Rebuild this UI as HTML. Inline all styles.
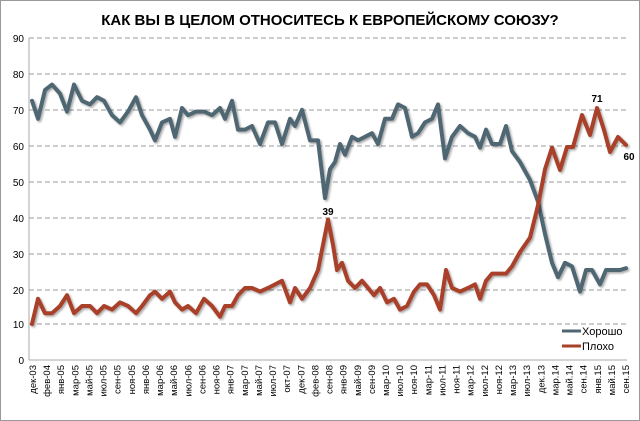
<!DOCTYPE html>
<html><head><meta charset="utf-8"><style>
body{margin:0;background:#fff}
svg{display:block}
text{font-family:"Liberation Sans",sans-serif}
</style></head><body>
<svg width="640" height="421" viewBox="0 0 640 421" xmlns="http://www.w3.org/2000/svg">
<defs><filter id="sh" x="-5%" y="-5%" width="110%" height="110%"><feDropShadow dx="1.5" dy="1.5" stdDeviation="1" flood-color="#000" flood-opacity="0.35"/></filter></defs>
<rect x="0.5" y="0.5" width="639" height="420" fill="#fff" stroke="#999"/>
<text x="330" y="25" text-anchor="middle" font-size="15" font-weight="bold" fill="#000">КАК ВЫ В ЦЕЛОМ ОТНОСИТЕСЬ К ЕВРОПЕЙСКОМУ СОЮЗУ?</text>
<g stroke="#999" stroke-dasharray="5,3" stroke-width="1">
<line x1="29" x2="627" y1="38" y2="38"/><line x1="29" x2="627" y1="74" y2="74"/><line x1="29" x2="627" y1="110" y2="110"/><line x1="29" x2="627" y1="146" y2="146"/><line x1="29" x2="627" y1="182" y2="182"/><line x1="29" x2="627" y1="218" y2="218"/><line x1="29" x2="627" y1="254" y2="254"/><line x1="29" x2="627" y1="290" y2="290"/><line x1="29" x2="627" y1="324" y2="324"/>
</g>
<line x1="29" x2="627" y1="360" y2="360" stroke="#aaa"/>
<line x1="29" x2="29" y1="38" y2="360" stroke="#aaa"/>
<g font-size="10" fill="#000" text-anchor="end">
<text x="24" y="42">90</text><text x="24" y="78">80</text><text x="24" y="114">70</text><text x="24" y="150">60</text><text x="24" y="186">50</text><text x="24" y="222">40</text><text x="24" y="258">30</text><text x="24" y="294">20</text><text x="24" y="328">10</text><text x="24" y="364">0</text>
</g>
<g font-size="9.5" fill="#000" text-anchor="end" id="xl"></g>
<polyline filter="url(#sh)" fill="none" stroke="#506673" stroke-width="4" stroke-linejoin="round" stroke-linecap="round" points="32,100.8 38,118.8 45,90 52,84.6 60,93.6 67,111.6 74,84.6 82,100.8 90,104.4 97,97.2 104,100.8 112,115.2 120,122.4 128,111.6 136,97.2 142,115.2 150,129.6 155,140.4 162,122.4 170,118.8 175,136.8 182,108 188,115.2 196,111.6 204,111.6 212,115.2 220,108 225,118.8 232,100.8 238,129.6 245,129.6 252,126 260,144 268,122.4 275,122.4 282,144 290,118.8 295,126 302,109.8 310,140.4 318,140.4 325,198 330,169.2 335,162 340,144 345,154.8 352,136.8 358,140.4 365,136.8 372,133.2 378,144 385,118.8 392,118.8 398,104.4 405,108 412,136.8 418,133.2 425,122.4 432,118.8 438,104.4 445,158.4 452,136.8 460,126 468,133.2 475,136.8 480,147.6 486,129.6 492,144 500,144 506,126 512,151.2 520,162 530,180 538,201.6 545,234 552,262.8 558,277.2 565,262.8 572,266.4 580,291.6 586,270 592,270 600,284.4 606,270 612,270 620,270 626,268.2"/>
<polyline filter="url(#sh)" fill="none" stroke="#a8412a" stroke-width="4" stroke-linejoin="round" stroke-linecap="round" points="32,324 38,298.8 45,313.2 52,313.2 60,306 67,295.2 74,313.2 82,306 90,306 97,313.2 104,306 112,309.6 120,302.4 128,306 136,313.2 142,306 150,295.2 155,291.6 162,298.8 170,291.6 175,302.4 182,309.6 188,306 196,313.2 204,298.8 212,306 220,316.8 225,306 232,306 238,295.2 245,288 252,288 260,291.6 268,288 275,284.4 282,280.8 290,302.4 295,288 302,298.8 310,288 318,270 328,219.6 333,244.8 337,270 342,262.8 348,280.8 355,288 362,280.8 368,288 374,295.2 380,288 387,302.4 394,298.8 400,309.6 407,306 414,291.6 420,284.4 427,284.4 434,295.2 440,309.6 446,270 452,288 460,291.6 468,288 475,284.4 480,298.8 486,280.8 492,273.6 500,273.6 506,273.6 512,266.4 520,252 530,237.6 538,205.2 545,169.2 552,147.6 560,170 567,147 573,147 582,115 590,135 597,108 604,130 610,152 618,137 626,145"/>
<text x="328" y="215" font-size="10" font-weight="bold" text-anchor="middle">39</text>
<text x="597" y="102" font-size="10" font-weight="bold" text-anchor="middle">71</text>
<text x="629" y="160" font-size="10" font-weight="bold" text-anchor="middle">60</text>
<line x1="562" x2="581" y1="331" y2="331" stroke="#506673" stroke-width="3"/>
<text x="582" y="335" font-size="11">Хорошо</text>
<line x1="562" x2="581" y1="346" y2="346" stroke="#a8412a" stroke-width="3"/>
<text x="582" y="350" font-size="11">Плохо</text>
<g font-size="9.5" fill="#000" text-anchor="end">
<text transform="translate(36,365) rotate(-90)">дек-03</text>
<text transform="translate(50.1,365) rotate(-90)">фев-04</text>
<text transform="translate(64.2,365) rotate(-90)">янв-05</text>
<text transform="translate(78.4,365) rotate(-90)">мар-05</text>
<text transform="translate(92.5,365) rotate(-90)">май-05</text>
<text transform="translate(106.6,365) rotate(-90)">июл-05</text>
<text transform="translate(120.7,365) rotate(-90)">сен-05</text>
<text transform="translate(134.8,365) rotate(-90)">ноя-05</text>
<text transform="translate(149,365) rotate(-90)">янв-06</text>
<text transform="translate(163.1,365) rotate(-90)">мар-06</text>
<text transform="translate(177.2,365) rotate(-90)">май-06</text>
<text transform="translate(191.3,365) rotate(-90)">июл-06</text>
<text transform="translate(205.4,365) rotate(-90)">сен-06</text>
<text transform="translate(219.6,365) rotate(-90)">ноя-06</text>
<text transform="translate(233.7,365) rotate(-90)">янв-07</text>
<text transform="translate(247.8,365) rotate(-90)">мар-07</text>
<text transform="translate(261.9,365) rotate(-90)">май-07</text>
<text transform="translate(276,365) rotate(-90)">июл-07</text>
<text transform="translate(290.2,365) rotate(-90)">окт-07</text>
<text transform="translate(304.3,365) rotate(-90)">дек-07</text>
<text transform="translate(318.4,365) rotate(-90)">фев-08</text>
<text transform="translate(332.5,365) rotate(-90)">сен-08</text>
<text transform="translate(346.6,365) rotate(-90)">янв-09</text>
<text transform="translate(360.8,365) rotate(-90)">май-09</text>
<text transform="translate(374.9,365) rotate(-90)">сен-09</text>
<text transform="translate(389,365) rotate(-90)">мар-10</text>
<text transform="translate(403.1,365) rotate(-90)">июл-10</text>
<text transform="translate(417.2,365) rotate(-90)">ноя-10</text>
<text transform="translate(431.4,365) rotate(-90)">мар-11</text>
<text transform="translate(445.5,365) rotate(-90)">июл-11</text>
<text transform="translate(459.6,365) rotate(-90)">ноя-11</text>
<text transform="translate(473.7,365) rotate(-90)">мар-12</text>
<text transform="translate(487.8,365) rotate(-90)">июл-12</text>
<text transform="translate(502,365) rotate(-90)">ноя-12</text>
<text transform="translate(516.1,365) rotate(-90)">мар-13</text>
<text transform="translate(530.2,365) rotate(-90)">июл-13</text>
<text transform="translate(544.3,365) rotate(-90)">дек.13</text>
<text transform="translate(558.4,365) rotate(-90)">мар.14</text>
<text transform="translate(572.6,365) rotate(-90)">май.14</text>
<text transform="translate(586.7,365) rotate(-90)">сен.14</text>
<text transform="translate(600.8,365) rotate(-90)">янв.15</text>
<text transform="translate(614.9,365) rotate(-90)">май.15</text>
<text transform="translate(629,365) rotate(-90)">сен.15</text>
</g>
</svg>
</body></html>
